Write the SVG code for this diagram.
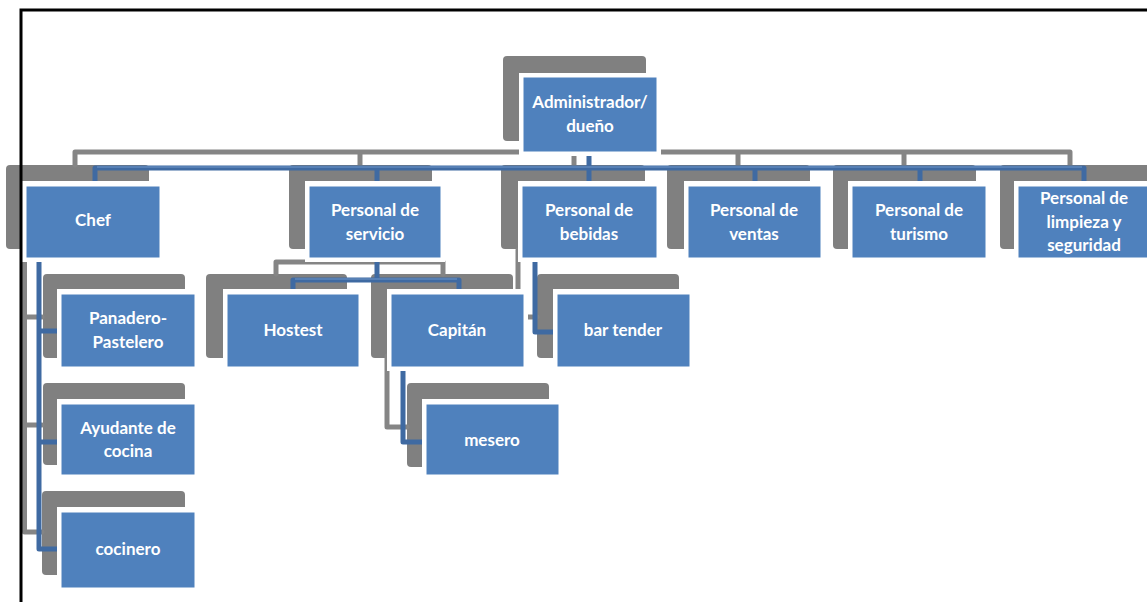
<svg xmlns="http://www.w3.org/2000/svg" width="1147" height="602" viewBox="0 0 1147 602">
<style>
.sh{fill:#808080}
.wb{fill:#FFFFFF}
.box{fill:#4F81BD;stroke:#FFFFFF;stroke-width:1}
.gc{fill:none;stroke:#858585;stroke-width:5;stroke-linejoin:round;stroke-linecap:round}
.bc{fill:none;stroke:#3F6AA2;stroke-width:5;stroke-linejoin:round;stroke-linecap:round}
.bh{fill:none;stroke:#7096C8;stroke-width:1.2}
.t{font-family:Lato,"Open Sans","DejaVu Sans",sans-serif;font-weight:bold;font-size:17px;fill:#FFFFFF;text-anchor:middle}
</style>
<rect width="1147" height="602" fill="#FFFFFF"/>
<g id="shadows">
<rect class="sh" x="503" y="56" width="143" height="85" rx="4"/>
<rect class="sh" x="6" y="165" width="143" height="84" rx="4"/>
<rect class="sh" x="289" y="165" width="143" height="84" rx="4"/>
<rect class="sh" x="501" y="165" width="144" height="84" rx="4"/>
<rect class="sh" x="667" y="165" width="143" height="84" rx="4"/>
<rect class="sh" x="833" y="165" width="143" height="84" rx="4"/>
<rect class="sh" x="1000" y="165" width="160" height="84" rx="4"/>
<rect class="sh" x="43" y="274" width="142" height="84" rx="4"/>
<rect class="sh" x="43" y="383" width="142" height="82" rx="4"/>
<rect class="sh" x="42" y="491" width="143" height="84" rx="4"/>
<rect class="sh" x="206" y="274" width="141" height="84" rx="4"/>
<rect class="sh" x="371" y="274" width="142" height="84" rx="4"/>
<rect class="sh" x="537" y="274" width="142" height="84" rx="4"/>
<rect class="sh" x="407" y="383" width="142" height="84" rx="4"/>
</g>
<g id="connectors">
<path class="gc" d="M574,140 V152 M75,165 V152 H1070 V165 M360,152 V165 M574,152 V165 M738,152 V165 M904,152 V165"/>
<path class="gc" d="M24.5,250 V532 M24.5,317 H42 M24.5,425 H42 M24.5,532 H42"/>
<path class="gc" d="M360,245 V262 M276,274 V262 H443 V274"/>
<path class="gc" d="M387,356 V427 H407"/>
<path class="gc" d="M518,250 V317 H537"/>
<path class="bc" d="M589,155 V168 M95,183 V168 H1084 V183 M377,168 V183 M589,168 V183 M755,168 V183 M920,168 V183"/>
<path class="bh" d="M97,167 H1082"/>
<path class="bc" d="M39,262 V549 M39,331 H58 M39,442 H58 M39,549 H58"/>
<path class="bc" d="M377,262 V280 M293,291 V280 H459 V291"/>
<path class="bh" d="M295,279 H457"/>
<path class="bc" d="M403,371 V442 H423"/>
<path class="bc" d="M535,262 V332 H554"/>
</g>
<g id="admin">
<rect class="wb" x="519" y="73" width="142" height="83"/>
<rect class="box" x="523" y="77" width="134" height="75"/>
<text class="t" x="590" y="108">Administrador/</text>
<text class="t" x="590" y="132">dueño</text>
</g>
<g id="chef">
<rect class="wb" x="22" y="181" width="142" height="81"/>
<rect class="box" x="26" y="186" width="134" height="72"/>
<text class="t" x="93" y="226">Chef</text>
</g>
<g id="servicio">
<rect class="wb" x="305" y="181" width="140" height="81"/>
<rect class="box" x="309" y="186" width="132" height="72"/>
<text class="t" x="375" y="216">Personal de</text>
<text class="t" x="375" y="240">servicio</text>
</g>
<g id="bebidas">
<rect class="wb" x="518" y="181" width="143" height="81"/>
<rect class="box" x="522" y="186" width="135" height="72"/>
<text class="t" x="589" y="216">Personal de</text>
<text class="t" x="589" y="240">bebidas</text>
</g>
<g id="ventas">
<rect class="wb" x="684" y="181" width="141" height="81"/>
<rect class="box" x="688" y="186" width="133" height="72"/>
<text class="t" x="754" y="216">Personal de</text>
<text class="t" x="754" y="240">ventas</text>
</g>
<g id="turismo">
<rect class="wb" x="848" y="181" width="142" height="81"/>
<rect class="box" x="852" y="186" width="134" height="72"/>
<text class="t" x="919" y="216">Personal de</text>
<text class="t" x="919" y="240">turismo</text>
</g>
<g id="limpieza">
<rect class="wb" x="1014" y="181" width="142" height="81"/>
<rect class="box" x="1018" y="186" width="134" height="72"/>
<text class="t" x="1084" y="204">Personal de</text>
<text class="t" x="1084" y="228">limpieza y</text>
<text class="t" x="1084" y="251">seguridad</text>
</g>
<g id="panadero">
<rect class="wb" x="57" y="289" width="142" height="82"/>
<rect class="box" x="61" y="294" width="134" height="73"/>
<text class="t" x="128" y="324">Panadero-</text>
<text class="t" x="128" y="348">Pastelero</text>
</g>
<g id="ayudante">
<rect class="wb" x="57" y="399" width="142" height="80"/>
<rect class="box" x="61" y="404" width="134" height="71"/>
<text class="t" x="128" y="434">Ayudante de</text>
<text class="t" x="128" y="457">cocina</text>
</g>
<g id="cocinero">
<rect class="wb" x="57" y="507" width="142" height="85"/>
<rect class="box" x="61" y="512" width="134" height="76"/>
<text class="t" x="128" y="555">cocinero</text>
</g>
<g id="hostest">
<rect class="wb" x="223" y="289" width="140" height="82"/>
<rect class="box" x="227" y="294" width="132" height="73"/>
<text class="t" x="293" y="336">Hostest</text>
</g>
<g id="capitan">
<rect class="wb" x="387" y="289" width="141" height="82"/>
<rect class="box" x="391" y="294" width="133" height="73"/>
<text class="t" x="457" y="336">Capitán</text>
</g>
<g id="bartender">
<rect class="wb" x="553" y="289" width="141" height="82"/>
<rect class="box" x="557" y="294" width="133" height="73"/>
<text class="t" x="623" y="336">bar tender</text>
</g>
<g id="mesero">
<rect class="wb" x="422" y="399" width="141" height="80"/>
<rect class="box" x="426" y="404" width="133" height="71"/>
<text class="t" x="492" y="446">mesero</text>
</g>
<path d="M21,602 V10 H1147" fill="none" stroke="#000000" stroke-width="3"/>
</svg>
